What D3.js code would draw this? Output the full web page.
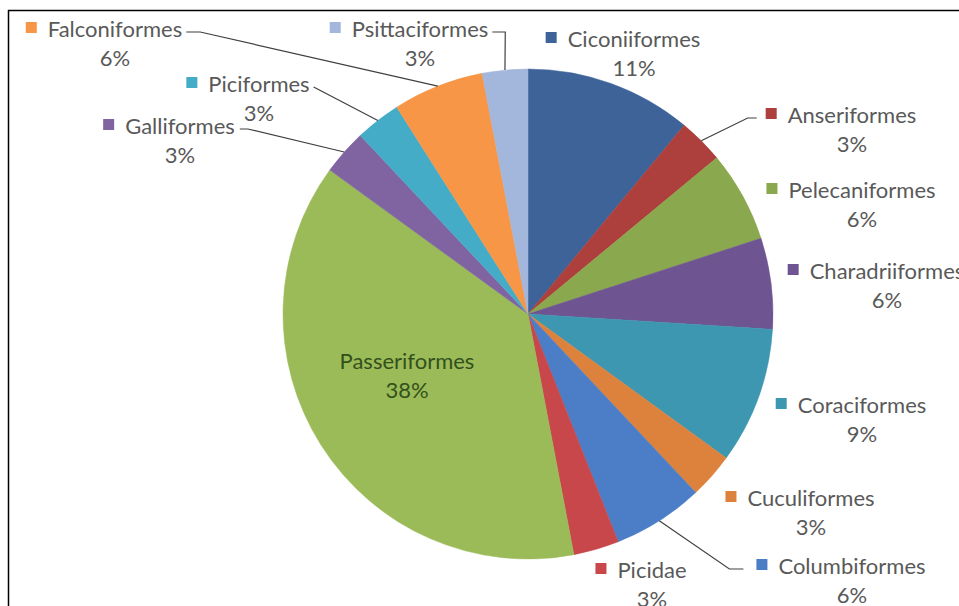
<html>
<head>
  <meta http-equiv="Content-Type" content="text/html;charset=utf-8"/>
  <script src="https://cdn.jsdelivr.net/npm/d3@7"></script>
  <style>
    body { margin: 0; background: #fff; }
    svg text { font-family: Lato, "Open Sans", sans-serif; }
  </style>
</head>
<body>
  <div id="chart"></div>
  <script>
  // data, clockwise from 12 o'clock
  var orders = ["Ciconiiformes", "Anseriformes", "Pelecaniformes", "Charadriiformes",
    "Coraciformes", "Cuculiformes", "Columbiformes", "Picidae", "Passeriformes",
    "Galliformes", "Piciformes", "Falconiformes", "Psittaciformes"];
  var shares = [11, 3, 6, 6, 9, 3, 6, 3, 38, 3, 3, 6, 3];
  var pctLabels = ["11%", "3%", "6%", "6%", "9%", "3%", "6%", "3%", "38%", "3%", "3%", "6%", "3%"];

  var palette = ["#3e6399", "#ad3f3c", "#8aa84d", "#6e5592", "#3d97b0", "#dc823c",
    "#4b7ec6", "#c8474a", "#9bbb59", "#8064a2", "#45acc8", "#f79646", "#a3b6db"];

  // label placement: name centre x, name baseline y, leader side
  var labelLayout = {
    "Ciconiiformes":   { x: 634, y: 47 },
    "Anseriformes":    { x: 852, y: 123, lead: "left", gap: 9, run: 9 },
    "Pelecaniformes":  { x: 862, y: 198 },
    "Charadriiformes": { x: 887, y: 279 },
    "Coraciformes":    { x: 862, y: 413 },
    "Cuculiformes":    { x: 811, y: 506 },
    "Columbiformes":   { x: 852, y: 574, lead: "left", gap: 13, run: 14 },
    "Picidae":         { x: 652, y: 578 },
    "Passeriformes":   { x: 407, y: 369, inside: true },
    "Galliformes":     { x: 180, y: 134, lead: "right", gap: 5, run: 8 },
    "Piciformes":      { x: 259, y: 92, lead: "right", gap: 4, run: 0 },
    "Falconiformes":   { x: 115, y: 37, lead: "right", gap: 4, run: 14 },
    "Psittaciformes":  { x: 420, y: 37, lead: "right", gap: 4, run: 13 }
  };

  var W = 959, H = 606;
  var cx = 528, cy = 314, R = 245;

  var svg = d3.select("#chart").append("svg")
    .attr("width", W).attr("height", H);

  // frame: top and left edges only
  svg.append("line").attr("x1", 8).attr("y1", 10.5).attr("x2", W).attr("y2", 10.5)
    .attr("stroke", "#000").attr("stroke-width", 1.5);
  svg.append("line").attr("x1", 8.5).attr("y1", 10).attr("x2", 8.5).attr("y2", H)
    .attr("stroke", "#000").attr("stroke-width", 1.5);

  var color = d3.scaleOrdinal().domain(orders).range(palette);

  var pie = d3.pie().sort(null).value(function(d) { return d.value; });
  var arcs = pie(orders.map(function(o, i) { return { name: o, value: shares[i], pct: pctLabels[i] }; }));
  var arc = d3.arc().innerRadius(0).outerRadius(R);

  var g = svg.append("g").attr("transform", "translate(" + cx + "," + cy + ")");
  g.selectAll("path.slice").data(arcs).enter().append("path")
    .attr("class", "slice")
    .attr("d", arc)
    .attr("fill", function(d) { return color(d.data.name); })
    .attr("stroke", function(d) { return color(d.data.name); })
    .attr("stroke-width", 0.5);

  function edgePoint(d) {
    var a = (d.startAngle + d.endAngle) / 2;
    return [cx + R * Math.sin(a), cy - R * Math.cos(a)];
  }

  var labels = svg.append("g");
  arcs.forEach(function(d) {
    var L = labelLayout[d.data.name];
    var lg = labels.append("g");
    var fill = L.inside ? "#33501c" : "#595959";
    var name = lg.append("text")
      .attr("x", L.x).attr("y", L.y)
      .attr("text-anchor", "middle")
      .style("font-size", "22px")
      .attr("fill", fill)
      .text(d.data.name);
    lg.append("text")
      .attr("x", L.x).attr("y", L.y + 29)
      .attr("text-anchor", "middle")
      .style("font-size", "22px")
      .attr("fill", fill)
      .text(d.data.pct);

    if (L.inside) return;
    var w = name.node().getComputedTextLength();
    var x0 = L.x - w / 2, x1 = L.x + w / 2;
    var mx = x0 - 22;
    lg.append("rect")
      .attr("x", mx).attr("y", L.y - 15)
      .attr("width", 11).attr("height", 11)
      .attr("fill", color(d.data.name));

    if (L.lead) {
      var p = edgePoint(d);
      var sy = L.y - 5;
      var pts;
      if (L.lead === "right") {
        pts = [[x1 + L.gap, sy], [x1 + L.gap + L.run, sy], p];
      } else {
        pts = [[mx - L.gap, sy], [mx - L.gap - L.run, sy], p];
      }
      lg.append("path")
        .attr("d", d3.line()(pts))
        .attr("fill", "none")
        .attr("stroke", "#404040")
        .attr("stroke-width", 1.2);
    }
  });
  </script>
</body>
</html>
